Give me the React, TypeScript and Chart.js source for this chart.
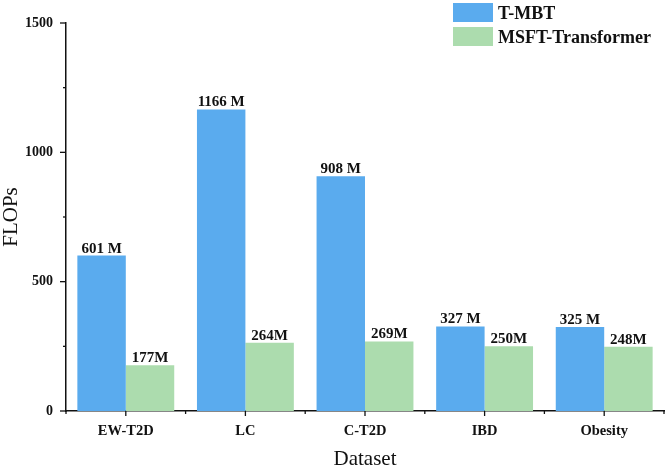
import React, { useEffect, useRef } from "react";
import { Chart, registerables } from "chart.js";

Chart.register(...registerables);

const categories = ["EW-T2D", "LC", "C-T2D", "IBD", "Obesity"];
const tmbtValues = [601, 1166, 908, 327, 325];
const msftValues = [177, 264, 269, 250, 248];
const tmbtLabels = ["601 M", "1166 M", "908 M", "327 M", "325 M"];
const msftLabels = ["177M", "264M", "269M", "250M", "248M"];
const seriesNames = ["T-MBT", "MSFT-Transformer"];
const yMajorTicks = [0, 500, 1000, 1500];
const yMinorTicks = [250, 750, 1250];

const BLUE = "#5aabee";
const GREEN = "#acdcae";
const SERIF = "'Liberation Serif', 'Times New Roman', serif";

const customPlugin = {
  id: "custom",
  afterDraw(chart: any) {
    const ctx = chart.ctx;
    const xs = chart.scales.x;
    const ys = chart.scales.y;
    const area = chart.chartArea;
    ctx.save();
    ctx.strokeStyle = "#111";
    ctx.lineWidth = 1.3;
    // y ticks
    yMajorTicks.forEach((v) => {
      const y = ys.getPixelForValue(v);
      ctx.beginPath();
      ctx.moveTo(area.left - 6, y);
      ctx.lineTo(area.left, y);
      ctx.stroke();
    });
    yMinorTicks.forEach((v) => {
      const y = ys.getPixelForValue(v);
      ctx.beginPath();
      ctx.moveTo(area.left - 3, y);
      ctx.lineTo(area.left, y);
      ctx.stroke();
    });
    // x ticks
    const n = categories.length;
    const centers = categories.map((_, i) => xs.getPixelForValue(i));
    const half = n > 1 ? (centers[1] - centers[0]) / 2 : 50;
    centers.forEach((cx) => {
      ctx.beginPath();
      ctx.moveTo(cx, area.bottom);
      ctx.lineTo(cx, area.bottom + 5);
      ctx.stroke();
    });
    for (let i = 0; i <= n; i++) {
      const bx = i < n ? centers[i] - half : centers[n - 1] + half;
      ctx.beginPath();
      ctx.moveTo(bx, area.bottom);
      ctx.lineTo(bx, area.bottom + 3);
      ctx.stroke();
    }
    // data labels
    ctx.fillStyle = "#111";
    ctx.font = `bold 15px ${SERIF}`;
    ctx.textAlign = "center";
    ctx.textBaseline = "alphabetic";
    const labelSets = [tmbtLabels, msftLabels];
    chart.data.datasets.forEach((_: any, di: number) => {
      const meta = chart.getDatasetMeta(di);
      meta.data.forEach((el: any, i: number) => {
        ctx.fillText(labelSets[di][i], el.x, el.y - 3);
      });
    });
    // axis titles
    ctx.font = `21px ${SERIF}`;
    ctx.fillText("Dataset", (area.left + area.right) / 2, 465);
    ctx.save();
    ctx.translate(17, (area.top + area.bottom) / 2);
    ctx.rotate(-Math.PI / 2);
    ctx.fillText("FLOPs", 0, 0);
    ctx.restore();
    // legend
    const colors = [BLUE, GREEN];
    const boxTops = [3, 27];
    ctx.font = `bold 18px ${SERIF}`;
    ctx.textAlign = "left";
    seriesNames.forEach((name, i) => {
      ctx.fillStyle = colors[i];
      ctx.fillRect(453, boxTops[i], 40, 19);
      ctx.fillStyle = "#111";
      ctx.fillText(name, 498, boxTops[i] + 16);
    });
    ctx.restore();
  },
};

export default function App() {
  const ref = useRef<HTMLCanvasElement>(null);
  useEffect(() => {
    document.body.style.margin = "0";
    const chart = new Chart(ref.current as HTMLCanvasElement, {
      type: "bar",
      data: {
        labels: categories,
        datasets: [
          { label: seriesNames[0], data: tmbtValues, backgroundColor: BLUE, borderWidth: 0 },
          { label: seriesNames[1], data: msftValues, backgroundColor: GREEN, borderWidth: 0 },
        ],
      },
      options: {
        animation: false,
        responsive: false,
        devicePixelRatio: 1,
        layout: { padding: { top: 23, right: 3, left: 0, bottom: 0 } },
        datasets: { bar: { categoryPercentage: 0.81, barPercentage: 1.0 } },
        plugins: { legend: { display: false }, tooltip: { enabled: false } },
        scales: {
          x: {
            grid: { display: false, drawTicks: false },
            border: { display: true, color: "#111", width: 1.5 },
            ticks: {
              color: "#111",
              font: { family: SERIF, size: 14.5, weight: "bold" },
              padding: 12,
              maxRotation: 0,
              autoSkip: false,
            },
            afterFit: (s: any) => {
              s.height = 57;
            },
          },
          y: {
            min: 0,
            max: 1500,
            grid: { display: false, drawTicks: false },
            border: { display: true, color: "#111", width: 1.5 },
            ticks: {
              stepSize: 500,
              color: "#111",
              font: { family: SERIF, size: 14, weight: "bold" },
              padding: 13,
              callback: (v: any) => String(v),
            },
            afterFit: (s: any) => {
              s.width = 66;
            },
          },
        },
      } as any,
      plugins: [customPlugin],
    });
    return () => chart.destroy();
  }, []);
  return (
    <div style={{ position: "absolute", left: 0, top: 0, width: 667, height: 468, background: "#fff" }}>
      <canvas ref={ref} width={667} height={468} />
    </div>
  );
}
